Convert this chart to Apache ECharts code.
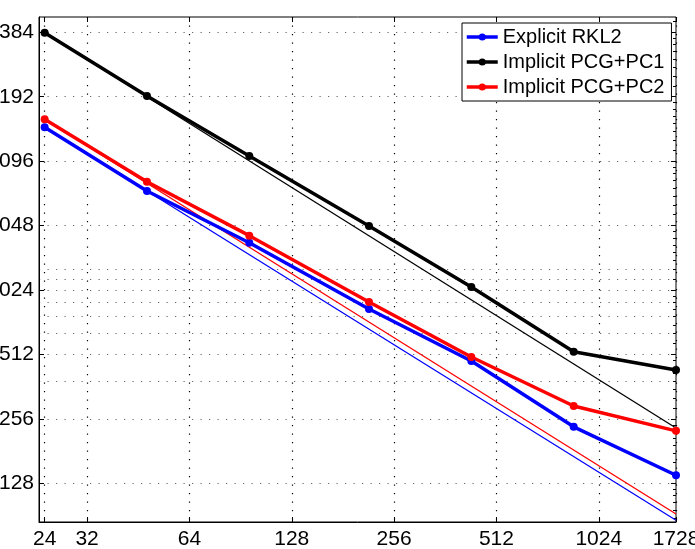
<!DOCTYPE html>
<html>
<head>
<meta charset="utf-8">
<script src="https://cdn.jsdelivr.net/npm/echarts@6/dist/echarts.min.js"></script>
<style>
    html, body { margin: 0; padding: 0; background: #fff; }
    #chart { width: 695px; height: 549px; }
</style>
</head>
<body>
<div id="chart"></div>
<script>
// processor counts (x) and wall times (y)
var procs = [24, 48, 96, 216, 432, 864, 1728];
var rkl2 = [5894, 2971, 1703, 835, 477, 235, 139.5];
var pc1 = [16300, 8255, 4328, 2040, 1058, 527, 433];
var pc2 = [6426, 3283, 1837, 900, 498, 294, 225];

// ideal scaling lines (start / end)
var idealProcs = [24, 1728];
var idealRkl2 = [5894, 86];
var idealPc1 = [16300, 232];
var idealPc2 = [6426, 92];

var xTicks = [24, 32, 64, 128, 256, 512, 1024, 1728];
var yTicks = [128, 256, 512, 1024, 2048, 4096, 8192, 16384];
var yMinorGrid = [384, 640, 768, 896, 1152, 1280];

var names = ['Explicit RKL2', 'Implicit PCG+PC1', 'Implicit PCG+PC2'];
var colors = ['#0000ff', '#000000', '#ff0000'];

var xMin = 23.1, xMax = 1728;
var yMin = 84.4, yMax = 19310;

// minor ticks on the y axis (8 per octave)
var yMinor = [];
for (var k = 6; k <= 14; k++) {
    for (var j = 1; j < 8; j++) {
        var v = Math.pow(2, k) * (1 + j / 8);
        if (v > yMin && v < yMax) yMinor.push(v);
    }
}

function pairs(xs, ys) {
    var out = [];
    for (var i = 0; i < xs.length; i++) out.push([xs[i], ys[i]]);
    return out;
}

var font = 'Liberation Sans';
var dotted = [1.2, 7.3];

function logY(extra) {
    var base = {
        type: 'log', logBase: 2, min: yMin, max: yMax,
        axisLine: { show: false },
        axisLabel: { show: false },
        axisTick: { show: false },
        splitLine: { show: false }
    };
    for (var key in extra) base[key] = extra[key];
    return base;
}

var chart = echarts.init(document.getElementById('chart'));
var option = {
    animation: false,
    textStyle: { fontFamily: font, color: '#000' },
    grid: {
        left: 39, right: 19, top: 17, bottom: 27,
        outerBoundsMode: 'none',
        containLabel: false,
        show: true, borderColor: '#000', borderWidth: 1
    },
    legend: {
        data: names.map(function (n, i) {
            return { name: n, itemStyle: { color: colors[i] }, lineStyle: { color: colors[i], width: 3.5 } };
        }),
        orient: 'vertical',
        left: 462, top: 23,
        padding: [4, 7, 4, 3],
        itemGap: 5,
        itemWidth: 31, itemHeight: 9,
        backgroundColor: '#fff',
        borderColor: '#000', borderWidth: 1,
        textStyle: { fontFamily: font, fontSize: 20, color: '#000', lineHeight: 20 }
    },
    xAxis: [{
        type: 'log', logBase: 2, min: xMin, max: xMax,
        axisLine: { show: true, lineStyle: { color: '#000', width: 1 } },
        axisTick: { inside: true, length: 5, customValues: xTicks, lineStyle: { color: '#000' } },
        axisLabel: {
            customValues: xTicks, margin: 7,
            fontSize: 21, fontFamily: font, color: '#000',
            formatter: function (v) { return String(Math.round(v)); }
        },
        splitLine: { show: true, lineStyle: { color: '#000', width: 1.2, type: dotted } }
    }, {
        type: 'log', logBase: 2, min: xMin, max: xMax, position: 'top',
        axisLine: { show: false },
        axisTick: { inside: true, length: 5, customValues: xTicks, lineStyle: { color: '#000' } },
        axisLabel: { show: false },
        splitLine: { show: false }
    }],
    yAxis: [
        logY({
            axisLine: { show: true, lineStyle: { color: '#000', width: 1 } },
            axisTick: { show: true, inside: true, length: 5, customValues: yTicks, lineStyle: { color: '#000' } },
            axisLabel: {
                show: true, customValues: yTicks, margin: 5,
                fontSize: 21, fontFamily: font, color: '#000',
                formatter: function (v) { return String(Math.round(v)); }
            },
            splitLine: { show: true, lineStyle: { color: '#666', width: 1.2, type: dotted } }
        }),
        logY({
            axisTick: { show: true, inside: true, length: 3, customValues: yMinor, lineStyle: { color: '#000' } }
        }),
        logY({
            position: 'right',
            axisTick: { show: true, inside: true, length: 5, customValues: yTicks, lineStyle: { color: '#000' } }
        }),
        logY({
            position: 'right',
            axisTick: { show: true, inside: true, length: 3, customValues: yMinor, lineStyle: { color: '#000' } }
        }),
        logY({
            axisTick: { show: false, customValues: yMinorGrid },
            splitLine: { show: true, lineStyle: { color: '#666', width: 1.2, type: dotted } }
        })
    ],
    series: [
        { name: 'ideal1', type: 'line', data: pairs(idealProcs, idealRkl2), showSymbol: false, silent: true,
          lineStyle: { color: colors[0], width: 1.3 }, z: 2 },
        { name: 'ideal2', type: 'line', data: pairs(idealProcs, idealPc1), showSymbol: false, silent: true,
          lineStyle: { color: colors[1], width: 1.3 }, z: 2 },
        { name: 'ideal3', type: 'line', data: pairs(idealProcs, idealPc2), showSymbol: false, silent: true,
          lineStyle: { color: colors[2], width: 1.3 }, z: 2 },
        { name: names[0], type: 'line', data: pairs(procs, rkl2), symbol: 'circle', symbolSize: 8,
          itemStyle: { color: colors[0] }, lineStyle: { color: colors[0], width: 3.5 }, z: 3 },
        { name: names[1], type: 'line', data: pairs(procs, pc1), symbol: 'circle', symbolSize: 8,
          itemStyle: { color: colors[1] }, lineStyle: { color: colors[1], width: 3.5 }, z: 3 },
        { name: names[2], type: 'line', data: pairs(procs, pc2), symbol: 'circle', symbolSize: 8,
          itemStyle: { color: colors[2] }, lineStyle: { color: colors[2], width: 3.5 }, z: 3 }
    ]
};
chart.setOption(option);
</script>
</body>
</html>
